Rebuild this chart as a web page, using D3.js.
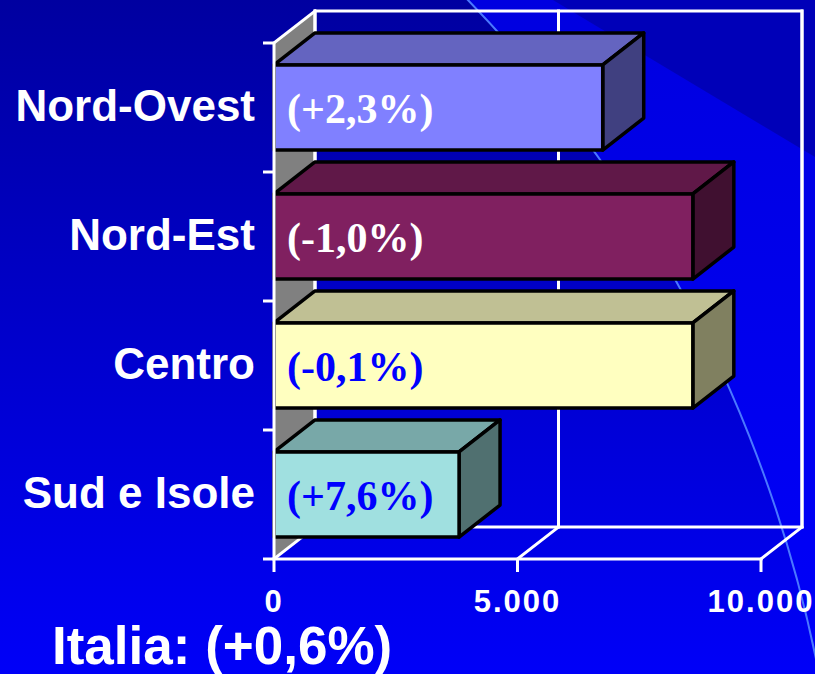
<!DOCTYPE html>
<html><head><meta charset="utf-8">
<script src="https://cdn.jsdelivr.net/npm/d3@7"></script>
<style>html,body{margin:0;padding:0;background:#0000d0;overflow:hidden}</style>
</head><body>
<svg id="c" width="815" height="674"></svg>
<script>
// ---- data ----
const categories = ["Nord-Ovest", "Nord-Est", "Centro", "Sud e Isole"];
const values = [6750, 8600, 8600, 3800];
const changeLabels = ["(+2,3%)", "(-1,0%)", "(-0,1%)", "(+7,6%)"];
const xTicks = [0, 5000, 10000];
const xTickLabels = ["0", "5.000", "10.000"];
const totalLabel = "Italia: (+0,6%)";

// ---- styles ----
const frontColors = ["#8080ff", "#802060", "#ffffc0", "#a0e0e0"];
const topColors   = ["#6464c0", "#601848", "#c0c094", "#78a8a8"];
const sideColors  = ["#404080", "#401030", "#808060", "#507070"];
const labelColors = ["#ffffff", "#ffffff", "#0000ff", "#0000ff"];

const W = 815, H = 674;
const svg = d3.select("#c");
const defs = svg.append("defs");

const gLeft = defs.append("linearGradient").attr("id", "gl")
  .attr("gradientUnits", "userSpaceOnUse").attr("x1", 0).attr("y1", 0).attr("x2", 0).attr("y2", H);
gLeft.append("stop").attr("offset", 0).attr("stop-color", "#0000a0");
gLeft.append("stop").attr("offset", 1).attr("stop-color", "#0000f8");
const gRight = defs.append("linearGradient").attr("id", "gr")
  .attr("gradientUnits", "userSpaceOnUse").attr("x1", 0).attr("y1", 0).attr("x2", 0).attr("y2", H);
gRight.append("stop").attr("offset", 0).attr("stop-color", "#0000e0");
gRight.append("stop").attr("offset", 1).attr("stop-color", "#0000fa");

// background
svg.append("rect").attr("width", W).attr("height", H).attr("fill", "url(#gr)");
svg.append("circle").attr("cx", -490).attr("cy", 927).attr("r", 1333).attr("fill", "url(#gl)");
svg.append("polygon").attr("points", "553,0 815,0 815,157").attr("fill", "#0000b8");
svg.append("circle").attr("cx", -490).attr("cy", 927).attr("r", 1333)
  .attr("fill", "none").attr("stroke", "#4a78ff").attr("stroke-width", 2);

// ---- scales ----
const x = d3.scaleLinear().domain([0, 10000]).range([274, 761]);
const y = d3.scaleBand().domain(categories).range([43, 559]).paddingInner(0.34).paddingOuter(0.17);
const DX = 41, DY = -32;
const y0 = 43, y1 = 559;
const x0 = x(0);

const white = "#ffffff";
const lw = 3;

// left wall (gray)
svg.append("polygon")
  .attr("points", [[x0, y0], [x0 + DX, y0 + DY], [x0 + DX, y1 + DY], [x0, y1]].join(" "))
  .attr("fill", "#808080");

const grid = svg.append("g").attr("stroke", white).attr("stroke-width", lw).attr("fill", "none")
  .attr("stroke-linecap", "square");
// back wall frame
grid.append("rect").attr("x", x0 + DX).attr("y", y0 + DY)
  .attr("width", x(10000) - x0).attr("height", y1 - y0);
// vertical gridlines on back wall
xTicks.forEach(t => {
  grid.append("line").attr("x1", x(t) + DX).attr("x2", x(t) + DX).attr("y1", y0 + DY).attr("y2", y1 + DY);
});
// left wall top edge
grid.append("line").attr("x1", x0).attr("y1", y0).attr("x2", x0 + DX).attr("y2", y0 + DY);
// floor: front edge and depth lines
grid.append("line").attr("x1", x0).attr("y1", y1).attr("x2", x(10000)).attr("y2", y1);
xTicks.forEach(t => {
  grid.append("line").attr("x1", x(t)).attr("y1", y1).attr("x2", x(t) + DX).attr("y2", y1 + DY);
});

// ---- bars ----
const bars = svg.append("g").attr("stroke", "#000").attr("stroke-width", 3.5).attr("stroke-linejoin", "round");
categories.forEach((c, i) => {
  const yt = y(c), bw = y.bandwidth(), xv = x(values[i]);
  bars.append("polygon")
    .attr("points", [[x0, yt], [x0 + DX, yt + DY], [xv + DX, yt + DY], [xv, yt]].join(" "))
    .attr("fill", topColors[i]);
  bars.append("polygon")
    .attr("points", [[xv, yt], [xv + DX, yt + DY], [xv + DX, yt + bw + DY], [xv, yt + bw]].join(" "))
    .attr("fill", sideColors[i]);
  bars.append("rect").attr("x", x0).attr("y", yt).attr("width", xv - x0).attr("height", bw)
    .attr("fill", frontColors[i]);
});

// front axis line and ticks (drawn over bars)
const ax = svg.append("g").attr("stroke", white).attr("stroke-width", lw);
ax.append("line").attr("x1", x0).attr("x2", x0).attr("y1", y0).attr("y2", y1);
const yTickPos = [y0].concat(categories.map(c => y(c) - y.step() * y.paddingOuter() + y.step()));
yTickPos.forEach(p => ax.append("line").attr("x1", x0 - 11).attr("x2", x0).attr("y1", p).attr("y2", p));
xTicks.forEach(t => ax.append("line").attr("x1", x(t)).attr("x2", x(t)).attr("y1", y1).attr("y2", y1 + 13));

// data labels inside bars
categories.forEach((c, i) => {
  svg.append("text").attr("x", x0 + 13).attr("y", y(c) + y.bandwidth() / 2 + 15)
    .attr("font-family", "'Liberation Serif','Times New Roman',serif").attr("font-weight", "bold")
    .attr("font-size", 42).attr("fill", labelColors[i]).text(changeLabels[i]);
});

// category labels
categories.forEach((c, i) => {
  svg.append("text").attr("x", 255).attr("y", y(c) + y.bandwidth() / 2 + 13)
    .attr("text-anchor", "end")
    .attr("font-family", "'Liberation Sans',Arial,sans-serif").attr("font-weight", "bold")
    .attr("font-size", 44).attr("fill", white).text(c);
});

// x tick labels
xTicks.forEach((t, i) => {
  svg.append("text").attr("x", x(t)).attr("y", 612).attr("text-anchor", "middle")
    .attr("font-family", "'Liberation Sans',Arial,sans-serif").attr("font-weight", "bold")
    .attr("font-size", 31).attr("letter-spacing", 2).attr("fill", white).text(xTickLabels[i]);
});

// total label
svg.append("text").attr("x", 52).attr("y", 664)
  .attr("font-family", "'Liberation Sans',Arial,sans-serif").attr("font-weight", "bold")
  .attr("font-size", 53).attr("fill", white).text(totalLabel);
</script>
</body></html>
